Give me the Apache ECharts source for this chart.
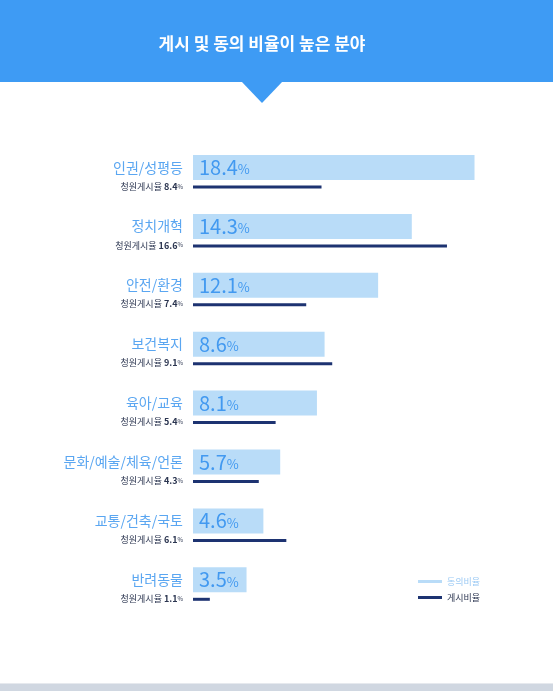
<!DOCTYPE html>
<html><head><meta charset="utf-8">
<script src="https://cdn.jsdelivr.net/npm/echarts@6/dist/echarts.min.js"></script>
<style>html,body{margin:0;padding:0;background:#fff}#c{width:553px;height:691px}</style>
</head><body><div id="c"></div>
<script>
const titleText = '게시 및 동의 비율이 높은 분야';
const categories = ['인권/성평등','정치개혁','안전/환경','보건복지','육아/교육','문화/예술/체육/언론','교통/건축/국토','반려동물'];
const agreeRate = [18.4, 14.3, 12.1, 8.6, 8.1, 5.7, 4.6, 3.5];
const postRate = [8.4, 16.6, 7.4, 9.1, 5.4, 4.3, 6.1, 1.1];
const seriesNames = ['동의비율', '게시비율'];
const subLabelPrefix = '청원게시율';

const FONT = '"Noto Sans CJK KR", "Noto Sans", sans-serif';
const LIGHT = '#b9dcf8';
const NAVY = '#1d3371';
const BLUE_TXT = '#5aa6f1';
const VAL_TXT = '#4299f0';

const chart = echarts.init(document.getElementById('c'), null, {renderer: 'canvas'});
chart.setOption({
  animation: false,
  backgroundColor: '#fff',
  textStyle: {fontFamily: FONT},
  graphic: [
    {type: 'rect', left: 0, top: 0, shape: {width: 553, height: 82}, style: {fill: '#3e9bf4'}},
    {type: 'polygon', shape: {points: [[241, 81], [283, 81], [262, 103]]}, style: {fill: '#3e9bf4'}},
    {type: 'text', x: 262, y: 44, style: {text: titleText, fill: '#fff', fontSize: 17, fontWeight: 'bold', fontFamily: FONT, align: 'center', verticalAlign: 'middle'}},
    {type: 'rect', left: 0, top: 683, shape: {width: 553, height: 1}, style: {fill: '#e6e9ee'}},
    {type: 'rect', left: 0, top: 684, shape: {width: 553, height: 7}, style: {fill: '#d0d7e1'}}
  ],
  legend: {
    orient: 'vertical', left: 413, top: 572, itemWidth: 24, itemHeight: 3, itemGap: 7,
    icon: 'rect', textStyle: {fontSize: 9, fontFamily: FONT},
    data: [
      {name: seriesNames[0], textStyle: {color: '#9ccaf4'}},
      {name: seriesNames[1], textStyle: {color: '#2b3550'}}
    ]
  },
  grid: {left: 193, right: 54, top: 142.3, bottom: 77.5, containLabel: false},
  xAxis: {type: 'value', min: 0, max: 20, show: false},
  yAxis: {
    type: 'category', inverse: true, data: categories,
    axisLine: {show: false}, axisTick: {show: false}, splitLine: {show: false},
    axisLabel: {
      margin: 10, align: 'right',
      formatter: function (v, i) {
        return '{a|' + v + '}\n{b|' + subLabelPrefix + ' }{n|' + postRate[i] + '}{p|%}';
      },
      rich: {
        a: {fontSize: 14, color: BLUE_TXT, lineHeight: 29, fontFamily: FONT},
        b: {fontSize: 9, color: '#2b3550', lineHeight: 9, fontFamily: FONT},
        n: {fontSize: 9, color: '#2b3550', lineHeight: 9, fontWeight: 'bold', fontFamily: FONT},
        p: {fontSize: 6, color: '#2b3550', lineHeight: 9, fontFamily: FONT}
      }
    }
  },
  series: [
    {
      name: seriesNames[0], type: 'bar', data: agreeRate, barWidth: 25, barGap: '22%',
      itemStyle: {color: LIGHT},
      label: {
        show: true, position: 'insideLeft', distance: 6,
        formatter: function (p) { return '{v|' + p.value + '}{p|%}'; },
        rich: {
          v: {fontSize: 20, color: VAL_TXT, fontFamily: FONT},
          p: {fontSize: 13, color: VAL_TXT, fontFamily: FONT, padding: [4, 0, 0, 0]}
        }
      }
    },
    {
      name: seriesNames[1], type: 'bar', data: postRate, barWidth: 3, barGap: '22%',
      itemStyle: {color: NAVY}
    }
  ]
});
</script></body></html>
